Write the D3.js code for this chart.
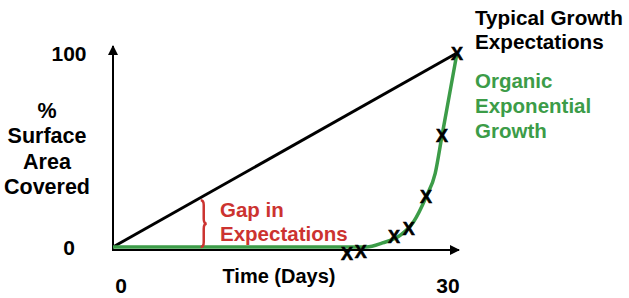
<!DOCTYPE html>
<html><head><meta charset="utf-8">
<script src="https://cdn.jsdelivr.net/npm/d3@7"></script>
<style>
html,body{margin:0;padding:0;background:#fff;}
text{font-family:"Liberation Sans",Arial,Helvetica,sans-serif;font-weight:bold;}
</style></head>
<body><svg id="c" width="629" height="298"></svg>
<script>
// Data
const xTicks = [0, 30];
const yTicks = [0, 100];
const typicalDays = [0, 30];
const typicalValues = [0, 100];
const organicDays = [0, 20, 22.1, 23.5, 25.1, 26.2, 27.3, 28.1, 28.7, 29.1, 30];
const organicValues = [0, 0, 0, 2.1, 6.2, 12.9, 25.8, 38, 57.7, 70.6, 100];
const markerDays = [20.4, 21.6, 24.5, 25.8, 27.3, 28.7, 30];
const markerValues = [-3.1, -2.1, 5.2, 9.3, 25.8, 57.7, 100];
const yTitle = ["%", "Surface", "Area", "Covered"];
const xTitle = "Time (Days)";
const typicalLabel = ["Typical Growth", "Expectations"];
const organicLabel = ["Organic", "Exponential", "Growth"];
const gapLabel = ["Gap in", "Expectations"];
const gapDay = 8;

const green = "#3c9c48", red = "#cc3330";
const svg = d3.select("#c");
const x = d3.scaleLinear().domain([0, 30]).range([113, 457]);
const y = d3.scaleLinear().domain([0, 100]).range([247, 53]);

// arrow marker
svg.append("defs").append("marker").attr("id","arr").attr("viewBox","0 0 10 10")
  .attr("refX",9).attr("refY",5).attr("markerWidth",5).attr("markerHeight",5)
  .attr("orient","auto").attr("markerUnits","strokeWidth")
  .append("path").attr("d","M0,0 L10,5 L0,10 Z").attr("fill","#000");

// axes
svg.append("line").attr("x1",x(0)).attr("x2",x(0)).attr("y1",y(0)+4).attr("y2",y(100)-7)
  .attr("stroke","#000").attr("stroke-width",2).attr("marker-end","url(#arr)");
svg.append("line").attr("x1",x(0)-1).attr("x2",x(30)+2).attr("y1",y(0)+3).attr("y2",y(0)+3)
  .attr("stroke","#000").attr("stroke-width",2).attr("marker-end","url(#arr)");

// tick labels
svg.selectAll(".yt").data(yTicks).join("text").attr("class","yt")
  .attr("x", 69).attr("y", d => y(d) + 8).attr("text-anchor","middle")
  .attr("font-size", 21).text(d => d);
svg.selectAll(".xt").data(xTicks).join("text").attr("class","xt")
  .attr("x", d => x(d) + (d === 0 ? 8 : -9)).attr("y", 293).attr("text-anchor","middle")
  .attr("font-size", 21).text(d => d);

// axis titles
svg.append("text").attr("x", 47).attr("y", 118).attr("text-anchor","middle").attr("font-size",21.5)
  .selectAll("tspan").data(yTitle).join("tspan").attr("x",47).attr("dy",(d,i)=> i? 25.3 : 0).text(d=>d);
svg.append("text").attr("x", 279).attr("y", 283).attr("text-anchor","middle").attr("font-size",20).text(xTitle);

// typical line
const line = d3.line().x(d => x(d[0])).y(d => y(d[1]));
svg.append("path").datum(d3.zip(typicalDays, typicalValues)).attr("d", line)
  .attr("fill","none").attr("stroke","#000").attr("stroke-width",3);

// organic curve
const curve = d3.line().x(d => x(d[0])).y(d => y(d[1])).curve(d3.curveMonotoneX);
svg.append("path").datum(d3.zip(organicDays, organicValues)).attr("d", curve)
  .attr("fill","none").attr("stroke",green).attr("stroke-width",3.5);

// markers
svg.selectAll(".mk").data(d3.zip(markerDays, markerValues)).join("text").attr("class","mk")
  .attr("x", d => x(d[0])).attr("y", d => y(d[1]) + 6.5).attr("text-anchor","middle")
  .attr("font-size", 18).attr("fill","#000").attr("stroke","#000").attr("stroke-width",0.6).text("X");

// brace
const bx = x(gapDay) - 4, by0 = y(gapDay/30*100) + 5, by1 = y(0), bm = (by0+by1)/2, bw = 6, br = 5;
svg.append("path").attr("d",
  `M${bx},${by0} Q${bx+bw/2},${by0} ${bx+bw/2},${by0+br} L${bx+bw/2},${bm-br} Q${bx+bw/2},${bm} ${bx+bw},${bm} Q${bx+bw/2},${bm} ${bx+bw/2},${bm+br} L${bx+bw/2},${by1-br} Q${bx+bw/2},${by1} ${bx},${by1}`)
  .attr("fill","none").attr("stroke",red).attr("stroke-width",2.5);

// labels
svg.append("text").attr("y",217).attr("font-size",20.5).attr("fill",red)
  .selectAll("tspan").data(gapLabel).join("tspan").attr("x",220).attr("dy",(d,i)=>i?23.5:0).text(d=>d);
svg.append("text").attr("y",25).attr("font-size",20.7).attr("fill","#000")
  .selectAll("tspan").data(typicalLabel).join("tspan").attr("x",475).attr("dy",(d,i)=>i?24:0).text(d=>d);
svg.append("text").attr("y",88).attr("font-size",20.5).attr("fill",green)
  .selectAll("tspan").data(organicLabel).join("tspan").attr("x",475).attr("dy",(d,i)=>i?25:0).text(d=>d);
</script></body></html>
